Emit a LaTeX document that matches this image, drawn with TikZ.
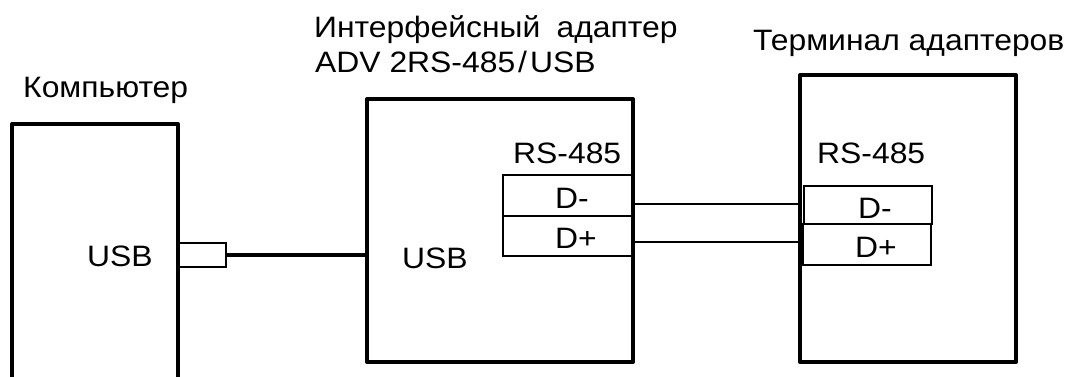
\documentclass[tikz,border=0pt]{standalone}
\usepackage{fontspec}
\setmainfont[FakeStretch=1.08]{Liberation Sans}
\begin{document}
\begin{tikzpicture}[x=1pt,y=-1pt,
  thickbox/.style={draw,line width=4pt,line join=round,inner sep=0pt,outer sep=0pt},
  port/.style={draw,line width=1.3pt,inner sep=0pt,outer sep=0pt},
  lbl/.style={anchor=base west,inner sep=0pt,font=\fontsize{29.5}{34}\selectfont},
  wire/.style={line width=1.3pt}]
\useasboundingbox (0,0) rectangle (1074,376);
\clip (0,0) rectangle (1074,376);
% boxes
\node[thickbox,minimum width=166pt,minimum height=300pt] (pc) at (95,274) {};
\node[thickbox,minimum width=266pt,minimum height=263pt] (adp) at (500,230.5) {};
\node[thickbox,minimum width=216pt,minimum height=287pt] (term) at (908,218.5) {};
% ports
\node[port,minimum width=48pt,minimum height=24pt] (usbp) at (202,255) {};
\node[port,minimum width=130pt,minimum height=41pt] (adm) at (568,195.5) {};
\node[port,minimum width=130pt,minimum height=40pt] (adp2) at (568,236) {};
\node[port,minimum width=128pt,minimum height=38pt] (tdm) at (868,205) {};
\node[port,minimum width=128pt,minimum height=41pt] (tdp) at (867,244.5) {};
% labels
\node[lbl] (t1) at (23,97) {Компьютер};
\node[lbl] (t2) at (314,37) {Интерфейсный\hspace{0.55em}адаптер};
\node[lbl] (t3) at (315,72) {ADV 2RS-485\hspace{0.1em}/\hspace{0.1em}USB};
\node[lbl] (t4) at (753,50) {Терминал адаптеров};
\node[lbl] (u1) at (87,266) {USB};
\node[lbl] (u2) at (402,268) {USB};
\node[lbl] (r1) at (513,163) {RS-485};
\node[lbl] (r2) at (817,163) {RS-485};
\node[lbl] (d1) at (555,208) {D-};
\node[lbl] (d2) at (555,248) {D+};
\node[lbl] (d3) at (858,218) {D-};
\node[lbl] (d4) at (855,257) {D+};
% connectors
\draw[line width=3.5pt] (usbp.east) -- (adp.west |- usbp.east);
\coordinate (am) at (633,204);
\coordinate (ap) at (633,242);
\draw[wire] (am) -- (term.west |- am);
\draw[wire] (ap) -- (term.west |- ap);
\end{tikzpicture}
\end{document}
